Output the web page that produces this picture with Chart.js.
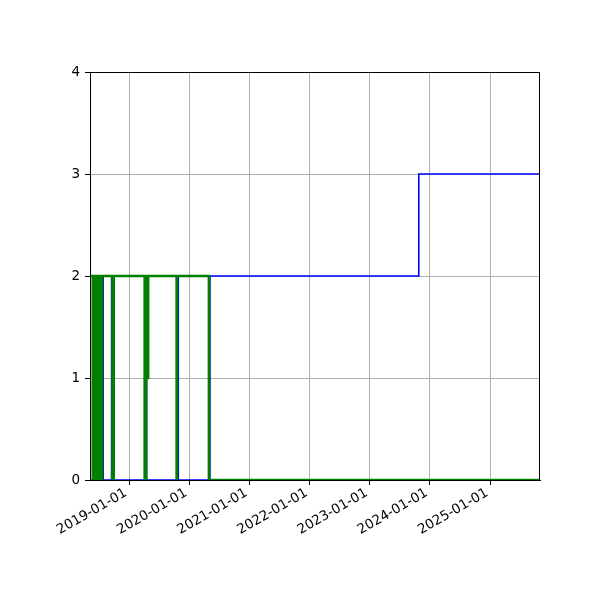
<!DOCTYPE html>
<html>
<head>
<meta charset="utf-8">
<script src="https://cdn.jsdelivr.net/npm/chart.js@4"></script>
<style>
  body { margin: 0; background: #fff; }
  #wrap { width: 600px; height: 600px; }
</style>
</head>
<body>
<div id="wrap"><canvas id="chart" width="600" height="600"></canvas></div>
<script>
const xMin = "2018-05-09";
const xMax = "2025-10-31";
const yearTicks = ["2019-01-01", "2020-01-01", "2021-01-01", "2022-01-01", "2023-01-01", "2024-01-01", "2025-01-01"];
const yTicks = [0, 1, 2, 3, 4];

const greenDates = [
  "2018-05-09", "2018-05-26", "2018-05-29", "2018-05-31", "2018-06-03", "2018-06-06",
  "2018-06-09", "2018-06-12", "2018-06-15", "2018-06-18", "2018-06-21", "2018-06-24",
  "2018-06-27", "2018-06-30", "2018-07-03", "2018-07-06", "2018-07-09", "2018-07-12",
  "2018-07-15", "2018-07-18", "2018-07-21", "2018-09-22", "2018-09-25", "2018-09-28",
  "2018-09-30", "2019-04-06", "2019-04-08", "2019-04-12", "2019-04-14", "2019-04-17",
  "2019-04-19", "2019-04-21", "2019-04-23", "2019-04-25", "2019-04-27", "2019-10-17",
  "2019-10-19", "2020-04-30", "2025-10-31"
];
const greenValues = [
  2, 0, 2, 0, 2, 0,
  2, 0, 2, 0, 2, 0,
  2, 0, 2, 0, 2, 0,
  2, 0, 2, 0, 2, 0,
  2, 0, 2, 0, 2, 1,
  2, 1, 2, 1, 2, 0,
  2, 0, 0
];

const blueDates = [
  "2018-05-09", "2018-06-04", "2018-06-05", "2018-07-26", "2018-07-28", "2018-09-17",
  "2018-09-19", "2019-04-16", "2019-04-18", "2019-10-25", "2019-10-27", "2020-05-06",
  "2023-10-26", "2025-10-31"
];
const blueValues = [
  0, 2, 0, 2, 0, 2,
  0, 2, 0, 2, 0, 2,
  3, 3
];

function toPoints(dates, values) {
  return dates.map((d, i) => ({ x: Date.parse(d), y: values[i] }));
}

// top and right spines
const frame = {
  id: "frame",
  afterDraw(chart) {
    const { ctx, chartArea: a } = chart;
    ctx.save();
    ctx.strokeStyle = "#000";
    ctx.lineWidth = 1;
    ctx.strokeRect(a.left + 0.5, a.top + 0.5, a.right - a.left - 1, a.bottom - a.top);
    ctx.restore();
  }
};

const font = { family: "'DejaVu Sans', sans-serif", size: 13.5 };

new Chart(document.getElementById("chart"), {
  type: "line",
  data: {
    datasets: [
      {
        label: "green",
        data: toPoints(greenDates, greenValues),
        borderColor: "#008000",
        borderWidth: 2.6,
        pointRadius: 0,
        stepped: "before",
        fill: false
      },
      {
        label: "blue",
        data: toPoints(blueDates, blueValues),
        borderColor: "#0000ff",
        borderWidth: 1.6,
        pointRadius: 0,
        stepped: "before",
        fill: false
      }
    ]
  },
  options: {
    responsive: false,
    animation: false,
    layout: { padding: { top: 72, right: 60, left: 0, bottom: 0 } },
    plugins: { legend: { display: false }, tooltip: { enabled: false } },
    scales: {
      x: {
        type: "linear",
        min: Date.parse(xMin),
        max: Date.parse(xMax),
        afterBuildTicks: scale => {
          scale.ticks = yearTicks.map(d => ({ value: Date.parse(d) }));
        },
        afterFit: scale => { scale.height = 120; },
        ticks: {
          autoSkip: false,
          minRotation: 30,
          maxRotation: 30,
          padding: 0,
          labelOffset: -3,
          color: "#000",
          font,
          callback: v => new Date(v).toISOString().slice(0, 10)
        },
        grid: { color: "#b0b0b0", lineWidth: 1, tickColor: "#000", tickLength: 5 },
        border: { color: "#000", width: 1 }
      },
      y: {
        min: 0,
        max: 4,
        afterBuildTicks: scale => {
          scale.ticks = yTicks.map(v => ({ value: v }));
        },
        afterFit: scale => { scale.width = 90; },
        ticks: { padding: 5, color: "#000", font },
        grid: { color: "#b0b0b0", lineWidth: 1, tickColor: "#000", tickLength: 5 },
        border: { color: "#000", width: 1 }
      }
    }
  },
  plugins: [frame]
});
</script>
</body>
</html>
